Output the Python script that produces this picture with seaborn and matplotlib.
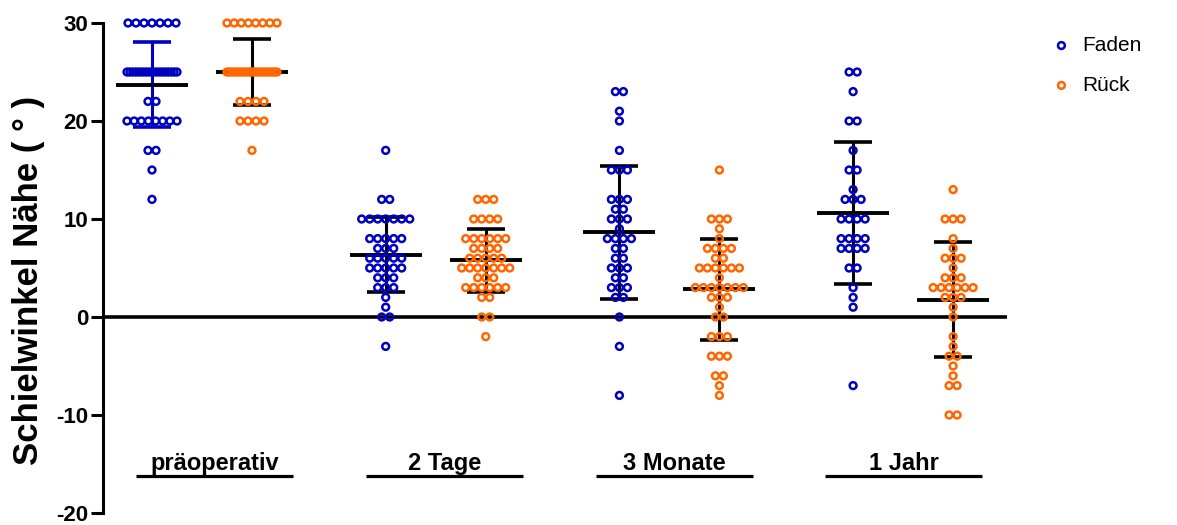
import numpy as np
import pandas as pd
import matplotlib
matplotlib.use("Agg")
import matplotlib.pyplot as plt
import seaborn as sns

# Messzeitpunkte und Gruppen
zeitpunkte = ["präoperativ", "2 Tage", "3 Monate", "1 Jahr"]
gruppen = ["Faden", "Rück"]

# Schielwinkel in der Nähe (Grad), je Patient ein Wert
faden_prae = [30, 30, 30, 30, 30, 30, 30,
              25, 25, 25, 25, 25, 25, 25, 25, 25, 25, 25, 25, 25, 25, 25, 25, 25, 25,
              22, 22, 20, 20, 20, 20, 20, 20, 20, 20, 17, 17, 15, 12]
rueck_prae = [30, 30, 30, 30, 30, 30, 30, 30,
              25, 25, 25, 25, 25, 25, 25, 25, 25, 25, 25, 25, 25, 25, 25, 25, 25, 25, 25, 25,
              22, 22, 22, 22, 20, 20, 20, 20, 17]
faden_2t = [17, 12, 12, 10, 10, 10, 10, 10, 10, 10, 8, 8, 8, 8, 8, 7, 7, 7,
            6, 6, 6, 6, 6, 5, 5, 5, 5, 5, 4, 4, 4, 3, 3, 3, 2, 1, 0, 0, -3]
rueck_2t = [12, 12, 12, 10, 10, 10, 10, 8, 8, 8, 8, 8, 8, 7, 7, 7, 7,
            6, 6, 6, 6, 6, 5, 5, 5, 5, 5, 5, 5, 4, 4, 4, 3, 3, 3, 3, 3, 3,
            2, 2, 0, 0, -2]
faden_3m = [23, 23, 21, 20, 17, 15, 15, 15, 12, 12, 12, 11, 11, 10, 10, 10, 9,
            8, 8, 8, 8, 7, 7, 6, 6, 5, 5, 5, 4, 4, 3, 3, 3, 2, 2, 0, -3, -8]
rueck_3m = [15, 10, 10, 10, 9, 8, 7, 7, 7, 7, 6, 6, 5, 5, 5, 5, 5, 5, 4,
            3, 3, 3, 3, 3, 3, 3, 2, 2, 2, 1, 0, 0, -2, -2, -2, -4, -4, -4,
            -6, -6, -7, -8]
faden_1j = [25, 25, 23, 20, 20, 17, 15, 15, 13, 12, 12, 12, 10, 10, 10, 10,
            8, 8, 8, 8, 7, 7, 7, 7, 5, 5, 3, 2, 1, -7]
rueck_1j = [13, 10, 10, 10, 8, 7, 6, 6, 6, 5, 4, 4, 4, 3, 3, 3, 3, 3, 3,
            2, 2, 2, 1, 0, -2, -3, -4, -4, -5, -6, -7, -7, -10, -10]

messwerte = {
    ("präoperativ", "Faden"): faden_prae, ("präoperativ", "Rück"): rueck_prae,
    ("2 Tage", "Faden"): faden_2t, ("2 Tage", "Rück"): rueck_2t,
    ("3 Monate", "Faden"): faden_3m, ("3 Monate", "Rück"): rueck_3m,
    ("1 Jahr", "Faden"): faden_1j, ("1 Jahr", "Rück"): rueck_1j,
}

farben = {"Faden": "#0000C0", "Rück": "#FF6600"}

# Spaltenpositionen auf der x-Achse
x_start, x_abstand, x_rueck = 0.49, 2.337, 1.0
label_start, label_abstand = 1.115, 2.298


def reihen_versatz(werte, abstand=0.08, halbbreite=0.25):
    """Gleiche Werte nebeneinander legen, bei vielen Punkten zusammenschieben."""
    werte = np.asarray(werte)
    versatz = np.zeros(len(werte))
    for w in np.unique(werte):
        idx = np.flatnonzero(werte == w)
        n = len(idx)
        if n > 1:
            d = min(abstand, 2 * halbbreite / (n - 1))
            versatz[idx] = (np.arange(n) - (n - 1) / 2) * d
    return versatz


def spalte(zeit, gruppe):
    return x_start + zeitpunkte.index(zeit) * x_abstand + (x_rueck if gruppe == "Rück" else 0.0)


teile = []
for (zeit, gruppe), werte in messwerte.items():
    teile.append(pd.DataFrame({
        "Zeitpunkt": zeit,
        "Gruppe": gruppe,
        "Wert": werte,
        "x": spalte(zeit, gruppe) + reihen_versatz(werte),
    }))
df = pd.concat(teile, ignore_index=True)

sns.set_theme(style="white")
plt.rcParams["font.family"] = ["Liberation Sans", "DejaVu Sans"]
plt.rcParams["axes.unicode_minus"] = False
plt.rcParams["text.color"] = "black"

fig = plt.figure(figsize=(11.77, 5.25), dpi=100)
ax = fig.add_axes([103 / 1177, 12 / 525, 904 / 1177, 490 / 525])

# Nulllinie
ax.axhline(0, color="black", lw=2.6, zorder=2)

# Mittelwert ± Standardabweichung
stat = df.groupby(["Zeitpunkt", "Gruppe"])["Wert"].agg(["mean", "std"])
for (zeit, gruppe), row in stat.iterrows():
    xc = spalte(zeit, gruppe)
    m, s = row["mean"], row["std"]
    fc = farben["Faden"] if (zeit == "präoperativ" and gruppe == "Faden") else "black"
    ax.vlines(xc, m - s, m + s, color=fc, lw=2.2, zorder=2)
    ax.hlines([m - s, m + s], xc - 0.19, xc + 0.19, color=fc, lw=2.6, zorder=2)
    ax.hlines(m, xc - 0.36, xc + 0.36, color="black", lw=2.8, zorder=3)

# Einzelwerte als offene Kreise
for gruppe in gruppen:
    sns.scatterplot(data=df[df["Gruppe"] == gruppe], x="x", y="Wert", ax=ax,
                    marker="o", s=24, facecolor="none", edgecolor=farben[gruppe],
                    linewidth=1.8, label=gruppe, zorder=4, clip_on=False)

# Zeitpunkt-Beschriftungen mit Unterstrich
for i, zeit in enumerate(zeitpunkte):
    xl = label_start + i * label_abstand
    ax.text(xl, -15.6, zeit, ha="center", va="baseline", fontsize=17,
            fontweight="bold", color="black", clip_on=False)
    ax.hlines(-16.25, xl - 0.785, xl + 0.785, color="black", lw=2.3, clip_on=False)

ax.set_xlim(0, 9.04)
ax.set_ylim(-20, 30)
ax.set_xticks([])
ax.set_yticks([-20, -10, 0, 10, 20, 30])
ax.tick_params(axis="y", direction="out", length=9, width=2.2, pad=1.5,
               labelsize=16, colors="black", left=True)
for lbl in ax.get_yticklabels():
    lbl.set_fontweight("bold")

ax.set_xlabel("")
ax.set_ylabel("Schielwinkel Nähe ( ° )", fontsize=25, fontweight="bold", color="black")
ax.yaxis.set_label_coords(-0.064, 0.475)

sns.despine(ax=ax, bottom=True)
ax.spines["left"].set_linewidth(2.2)
ax.spines["left"].set_color("black")

leg = ax.legend(loc="upper left", bbox_to_anchor=(1051 / 1177, 1 - 36 / 525),
                bbox_transform=fig.transFigure, frameon=False, fontsize=15,
                handlelength=1.0, handletextpad=0.5, borderpad=0, borderaxespad=0,
                labelspacing=1.0)
for t in leg.get_texts():
    t.set_color("black")

fig.savefig("out.png", dpi=100)
